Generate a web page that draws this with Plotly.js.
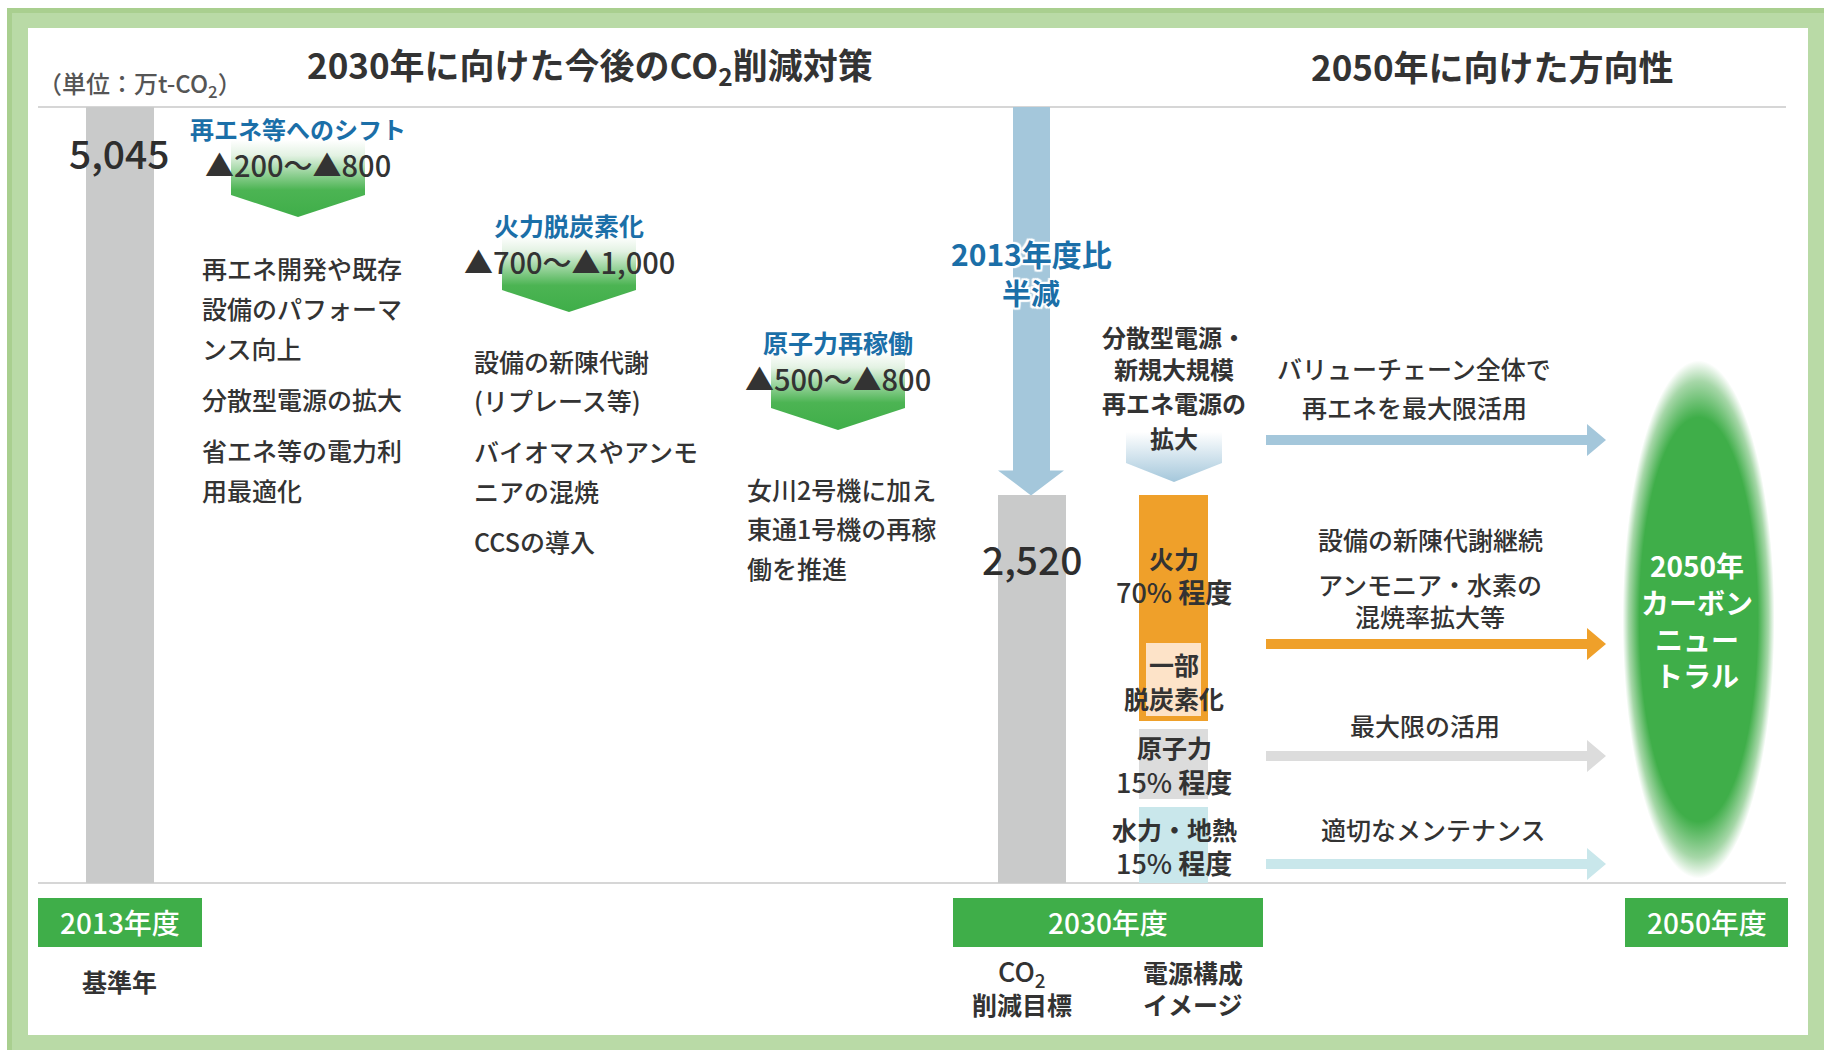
<!DOCTYPE html>
<html><head><meta charset="utf-8">
<script src="https://cdn.plot.ly/plotly-3.0.1.min.js"></script>
<style>html,body{margin:0;padding:0;background:#fff;}</style>
</head><body><div id="chart" style="width:1824px;height:1050px;"></div>
<script>
// ================= DATA =================
const years = ['2013年度', '2030年度', '2050年度'];
const emissions = [5045, 2520];               // 万t-CO2 (2013 base, 2030 target)
const measureNames = ['再エネ等へのシフト', '火力脱炭素化', '原子力再稼働'];
const reductionLow = [200, 700, 500];
const reductionHigh = [800, 1000, 800];
const measureDetails = [
  ['再エネ開発や既存', '設備のパフォーマ', 'ンス向上', '分散型電源の拡大', '省エネ等の電力利', '用最適化'],
  ['設備の新陳代謝', '(リプレース等)', 'バイオマスやアンモ', 'ニアの混焼', 'CCSの導入'],
  ['女川2号機に加え', '東通1号機の再稼', '働を推進']
];
const renewLabel = ['分散型電源・', '新規大規模', '再エネ電源の', '拡大'];
const mixNames = ['火力', '原子力', '水力・地熱'];
const mixShares = [70, 15, 15];
const partialLabel = ['一部', '脱炭素化'];
const directions = [
  ['バリューチェーン全体で', '再エネを最大限活用'],
  ['設備の新陳代謝継続', 'アンモニア・水素の', '混焼率拡大等'],
  ['最大限の活用'],
  ['適切なメンテナンス']
];
const halfLabel = ['2013年度比', '半減'];
const goalLabel = ['2050年', 'カーボン', 'ニュー', 'トラル'];
const yearNotes = [['基準年'], ['CO<sub>2</sub>', '削減目標'], ['電源構成', 'イメージ']];
const titles = ['2030年に向けた今後のCO<sub>2</sub>削減対策', '2050年に向けた方向性'];
const unitLabel = '（単位：万t-CO<sub>2</sub>）';

// ================= LAYOUT CONSTANTS =================
const W = 1824, H = 1050;
const BASE_PX = 883, TOP_PX = 107;
const pxPerUnit = (BASE_PX - TOP_PX) / emissions[0];
const px2v = p => (BASE_PX - p) / pxPerUnit;
const JP = '"Noto Sans CJK JP", "Noto Sans", sans-serif';
const C = {
  green: '#3fae49', gray: '#c9caca', blue: '#1b6fa8', text: '#333333',
  orange: '#efa02a', peach: '#fde3c8', nuc: '#dcdcdc', hyd: '#c9e7eb', arrowBlue: '#a4c7db'
};
const barX = [120, 1031.5], BAR_W = 68;
const numPos = [[119, 152], [1032, 558]];
const measX = [298, 569, 838];
const measNameY = [128, 225, 342];
const measValY = [164, 261, 378];
const measArrow = [[140, 195, 217], [236, 290, 312], [352, 408, 430]];
const ARW = 67;
const detailX = [200, 472, 745];
const detailY = [[268, 308, 348, 399, 450, 490], [361, 400, 451, 491, 541], [489, 528, 568]];
const renewY = [336, 368, 402, 437];
const colX0 = 1139, colX1 = 1208, colXc = 1174;
const colTop = 495;
const mixLabelY = [[558, 591], [747, 781], [829, 862]];
const partialY = [664, 698];
const dirArrowY = [440, 644, 756, 864];
const dirColors = [C.arrowBlue, C.orange, C.nuc, C.hyd];
const dirTextX = [1414, 1430, 1425, 1433];
const dirTextY = [[368, 407], [539, 584, 616], [725], [829]];
const boxes = [[38, 202], [953, 1263], [1625, 1788]];
const noteX = [[119], [1022], [1193]];
const noteY = [981, 972, 1004];

// ================= BUILD =================
const fmt = n => n.toLocaleString('en-US');
const shapes = [];
const annotations = [];
const traces = [];

function rect(x0, y0, x1, y1, color, layer) {
  shapes.push({type: 'rect', xref: 'x', yref: 'y', x0, y0, x1, y1, fillcolor: color, line: {width: 0}, layer: layer || 'below'});
}
function ann(x, y, text, size, color, opt) {
  opt = opt || {};
  annotations.push(Object.assign({
    x, y, xref: 'x', yref: 'y', text, showarrow: false,
    xanchor: 'center', yanchor: 'middle',
    font: Object.assign({family: JP, size, color, weight: 500}, opt.font || {})
  }, opt.extra || {}));
}

// frame
rect(7, 8, W, H, '#a9cf8f');
rect(12, 13, W, H, '#b9daa6');
rect(28, 28, 1808, 1035, '#ffffff');
// rules
shapes.push({type: 'line', xref: 'x', yref: 'y', x0: 38, x1: 1786, y0: TOP_PX, y1: TOP_PX, line: {color: '#d6d6d6', width: 2}, layer: 'below'});
shapes.push({type: 'line', xref: 'x', yref: 'y', x0: 38, x1: 1786, y0: BASE_PX, y1: BASE_PX, line: {color: '#d6d6d6', width: 2}, layer: 'below'});

// emission bars
traces.push({type: 'bar', x: barX, y: emissions, width: BAR_W, xaxis: 'x', yaxis: 'y2',
  marker: {color: C.gray, line: {width: 0}}, hoverinfo: 'skip', showlegend: false});
emissions.forEach((v, i) => ann(numPos[i][0], numPos[i][1], fmt(v), 39, '#2e2e2e'));

// big blue reduction arrow (value axis)
const headV = 25 / pxPerUnit;
const sx0 = 1013, sx1 = 1050, hx0 = 998, hx1 = 1064, tx = 1031;
shapes.push({type: 'path', xref: 'x', yref: 'y2', layer: 'below', fillcolor: C.arrowBlue, line: {width: 0},
  path: `M ${sx0} ${emissions[0]} L ${sx0} ${emissions[1] + headV} L ${hx0} ${emissions[1] + headV} L ${tx} ${emissions[1]} L ${hx1} ${emissions[1] + headV} L ${sx1} ${emissions[1] + headV} L ${sx1} ${emissions[0]} Z`});
const halo = '2px 0 1px #fff, -2px 0 1px #fff, 0 2px 1px #fff, 0 -2px 1px #fff, 2px 2px 1px #fff, -2px -2px 1px #fff, 2px -2px 1px #fff, -2px 2px 1px #fff';
ann(1031, 253, '<b>' + halfLabel[0] + '</b>', 30, C.blue, {font: {shadow: halo}});
ann(1031, 292, '<b>' + halfLabel[1] + '</b>', 29, C.blue, {font: {shadow: halo}});

// measures (gradient pentagons)
function pentagon(xc, hw, top, shoulder, tip, scale) {
  traces.push({type: 'scatter', mode: 'lines', line: {width: 0}, xaxis: 'x', yaxis: 'y',
    x: [xc - hw, xc + hw, xc + hw, xc, xc - hw, xc - hw],
    y: [top, top, shoulder, tip, shoulder, top],
    fill: 'toself', fillgradient: {type: 'vertical', start: top, stop: tip, colorscale: scale},
    hoverinfo: 'skip', showlegend: false});
}
const greenScale = [[0, '#ffffff'], [0.2, '#e3f2e3'], [0.65, '#4cb453'], [1, '#3fae49']];
measureNames.forEach((name, i) => {
  const a = measArrow[i];
  pentagon(measX[i], ARW, a[0], a[1], a[2], greenScale);
  ann(measX[i], measNameY[i], '<b>' + name + '</b>', i === 0 ? 24 : 25, C.blue);
  ann(measX[i], measValY[i], '▲' + fmt(reductionLow[i]) + '～▲' + fmt(reductionHigh[i]), 29, C.text);
  measureDetails[i].forEach((line, j) => ann(detailX[i], detailY[i][j], line, 25, C.text, {extra: {xanchor: 'left'}}));
});

// renewable expansion pentagon + labels
pentagon(colXc, 48, 405, 463, 482, [[0, '#ffffff'], [0.35, '#ffffff'], [1, C.arrowBlue]]);
renewLabel.forEach((t, j) => ann(colXc, renewY[j], '<b>' + t + '</b>', 24, C.text));

// power mix column (schematic)
rect(colX0, colTop, colX1, 721, C.orange, 'below');
rect(1146, 643, 1201, 716, C.peach, 'below');
rect(colX0, 729, colX1, 799, C.nuc, 'below');
rect(colX0, 807, colX1, BASE_PX, C.hyd, 'below');
mixNames.forEach((n, i) => {
  ann(colXc, mixLabelY[i][0], '<b>' + n + '</b>', 25, C.text);
  ann(colXc, mixLabelY[i][1], mixShares[i] + '% <b>程度</b>', 27, C.text);
});
partialLabel.forEach((t, j) => ann(colXc, partialY[j], '<b>' + t + '</b>', 25, C.text));

// direction arrows
const ax0 = 1266, axh = 1587, axt = 1606, sh = 5, hh = 16;
dirArrowY.forEach((y, i) => {
  shapes.push({type: 'path', xref: 'x', yref: 'y', layer: 'below', fillcolor: dirColors[i], line: {width: 0},
    path: `M ${ax0} ${y - sh} L ${axh} ${y - sh} L ${axh} ${y - hh} L ${axt} ${y} L ${axh} ${y + hh} L ${axh} ${y + sh} L ${ax0} ${y + sh} Z`});
  directions[i].forEach((t, j) => ann(dirTextX[i], dirTextY[i][j], t, 25, C.text));
});

// 2050 carbon neutral ellipse (radial gradient)
const ecx = 1698.5, ecy = 619.5, erx = 76, ery = 259;
const ex = [], ey = [];
for (let k = 0; k <= 96; k++) { const t = 2 * Math.PI * k / 96; ex.push(ecx + erx * Math.cos(t)); ey.push(ecy + ery * Math.sin(t)); }
traces.push({type: 'scatter', mode: 'lines', line: {width: 0}, x: ex, y: ey, xaxis: 'x', yaxis: 'y',
  fill: 'toself', fillgradient: {type: 'radial', colorscale: [[0, C.green], [0.78, C.green], [0.92, '#a6d7a8'], [1, '#ffffff']]},
  hoverinfo: 'skip', showlegend: false});
[565, 602, 639, 675].forEach((y, j) => ann(1697, y, '<b>' + goalLabel[j] + '</b>', 28, '#ffffff'));

// year boxes + notes
years.forEach((yr, i) => {
  rect(boxes[i][0], 898, boxes[i][1], 947, C.green, 'below');
  ann((boxes[i][0] + boxes[i][1]) / 2, 922, yr, 28, '#ffffff');
});
ann(noteX[0][0], noteY[0], '<b>' + yearNotes[0][0] + '</b>', 25, C.text);
ann(noteX[1][0], noteY[1], yearNotes[1][0], 27, C.text);
ann(noteX[1][0], noteY[2], '<b>' + yearNotes[1][1] + '</b>', 25, C.text);
ann(noteX[2][0], noteY[1], '<b>' + yearNotes[2][0] + '</b>', 25, C.text);
ann(noteX[2][0], noteY[2], '<b>' + yearNotes[2][1] + '</b>', 25, C.text);

// titles
ann(590, 65, '<b>' + titles[0] + '</b>', 35, '#333333');
ann(1492, 65, '<b>' + titles[1] + '</b>', 35, '#333333');
ann(36, 84, unitLabel, 24, '#555555', {extra: {xanchor: 'left'}});

const layout = {
  width: W, height: H, margin: {l: 0, r: 0, t: 0, b: 0, pad: 0},
  paper_bgcolor: '#ffffff', plot_bgcolor: 'rgba(0,0,0,0)', showlegend: false,
  xaxis: {range: [0, W], visible: false, fixedrange: true},
  yaxis: {range: [H, 0], visible: false, fixedrange: true},
  yaxis2: {range: [px2v(H), px2v(0)], overlaying: 'y', visible: false, fixedrange: true},
  shapes, annotations, bargap: 0
};
Plotly.newPlot('chart', traces, layout, {staticPlot: true, displayModeBar: false});
</script></body></html>
